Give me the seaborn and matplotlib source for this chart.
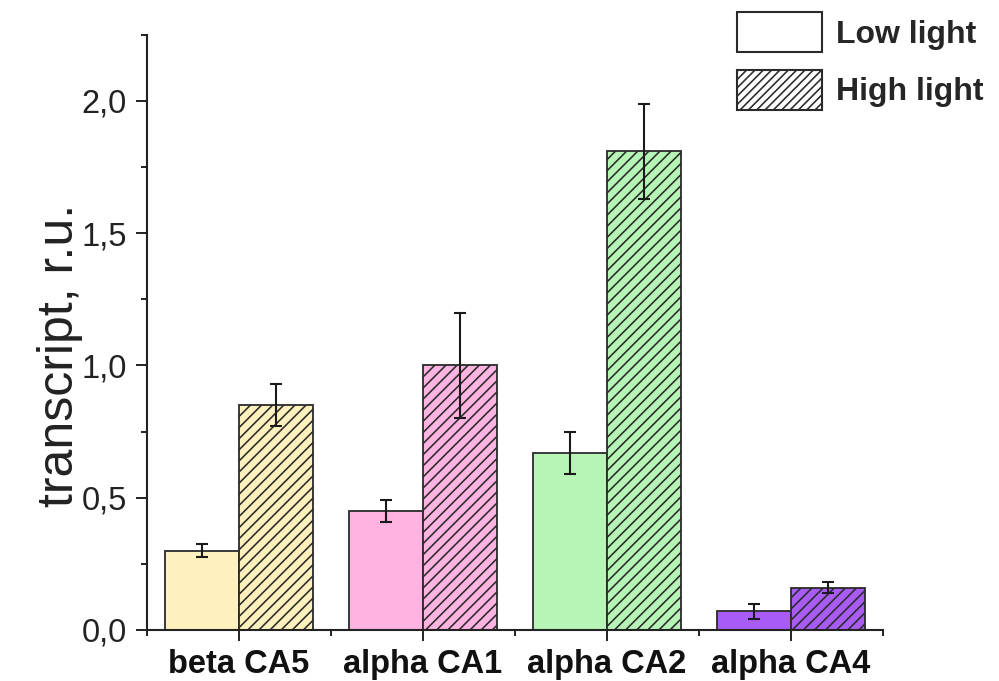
import matplotlib
matplotlib.use("Agg")
import numpy as np
import pandas as pd
import matplotlib.pyplot as plt
import seaborn as sns
from matplotlib.patches import Patch
from matplotlib.ticker import MultipleLocator, FixedLocator, FuncFormatter

# Transcript levels per gene under two light regimes (mean ± error)
genes = ["beta CA5", "alpha CA1", "alpha CA2", "alpha CA4"]
conditions = ["Low light", "High light"]
low_mean = [0.30, 0.45, 0.67, 0.07]
low_err = [0.025, 0.04, 0.08, 0.03]
high_mean = [0.85, 1.00, 1.81, 0.16]
high_err = [0.08, 0.20, 0.18, 0.02]
gene_colors = ["#FFF1BD", "#FFB3E1", "#B6F5B6", "#A95CF5"]

sns.set_theme(style="ticks")
plt.rcParams["font.family"] = ["Liberation Sans", "DejaVu Sans"]
plt.rcParams["hatch.linewidth"] = 1.15
plt.rcParams["hatch.color"] = "#1a1a1a"

df = pd.DataFrame({
    "gene": genes * 2,
    "light": [conditions[0]] * len(genes) + [conditions[1]] * len(genes),
    "value": low_mean + high_mean,
    "err": low_err + high_err,
})

fig = plt.figure(figsize=(9.99, 6.81), dpi=100)
ax = fig.add_axes([0.147, 0.0749, 0.737, 0.874])

sns.barplot(data=df, x="gene", y="value", hue="light", order=genes,
            hue_order=conditions, errorbar=None, width=0.8, saturation=1,
            legend=False, ax=ax)

edge = "#2a2a2a"
centers, heights, errs = [], [], []
for p in ax.patches:
    cx = p.get_x() + p.get_width() / 2
    gi = int(round(cx))
    is_high = cx > gi
    p.set_facecolor(gene_colors[gi])
    p.set_edgecolor(edge)
    p.set_linewidth(1.3)
    if is_high:
        p.set_hatch("///")
    centers.append(cx)
    heights.append(p.get_height())
    errs.append(high_err[gi] if is_high else low_err[gi])

ax.errorbar(centers, heights, yerr=errs, fmt="none", ecolor="#1a1a1a",
            elinewidth=1.5, capsize=4, capthick=1.5, zorder=5)

ax.set_xlim(-0.5, 3.5)
ax.set_ylim(0, 2.25)
ax.yaxis.set_major_locator(MultipleLocator(0.5))
ax.yaxis.set_minor_locator(MultipleLocator(0.25))
ax.yaxis.set_major_formatter(FuncFormatter(lambda v, _: f"{v:.1f}".replace(".", ",")))
ax.xaxis.set_minor_locator(FixedLocator([-0.5, 0.5, 1.5, 2.5, 3.5]))

sns.despine(ax=ax)
for s in ("left", "bottom"):
    ax.spines[s].set_linewidth(1.5)
    ax.spines[s].set_color("#222222")

ax.tick_params(axis="both", which="major", direction="out", length=8, width=1.4,
               color="#222222")
ax.tick_params(axis="both", which="minor", direction="out", length=4.5, width=1.4,
               color="#222222")
ax.tick_params(axis="y", which="major", labelsize=23.5, pad=6.5, labelcolor="#222222")
ax.tick_params(axis="x", which="major", labelsize=23.5, pad=6, labelcolor="#111111")
for lbl in ax.get_xticklabels():
    lbl.set_fontweight("bold")

ax.set_xlabel("")
ax.set_ylabel("transcript, r.u.", fontsize=36, color="#222222")
ax.yaxis.set_label_coords(-0.087, 0.462)

handles = [
    Patch(facecolor="white", edgecolor=edge, linewidth=1.5, label=conditions[0]),
    Patch(facecolor="white", edgecolor=edge, linewidth=1.5, hatch="////",
          label=conditions[1]),
]
fig.legend(handles=handles, loc="upper left", bbox_to_anchor=(737 / 999, 1 - 12 / 681),
           bbox_transform=fig.transFigure, frameon=False, borderpad=0,
           borderaxespad=0, handlelength=2.66, handleheight=1.55,
           handletextpad=0.45, labelspacing=0.56,
           prop={"weight": "bold", "size": 23})

fig.savefig("out.png", dpi=100, facecolor="white")
